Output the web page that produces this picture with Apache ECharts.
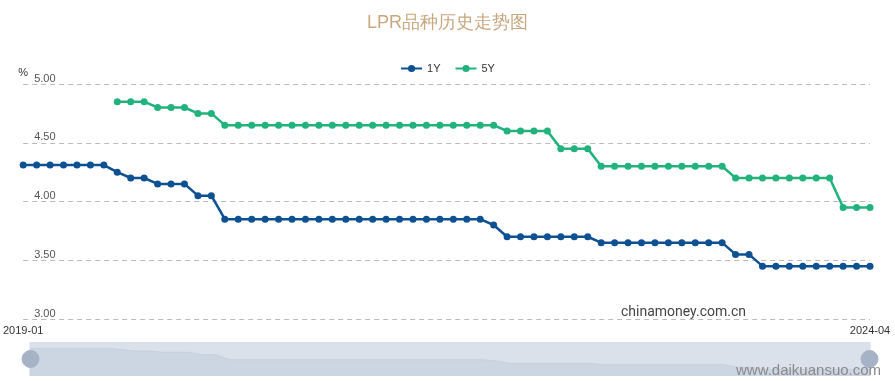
<!DOCTYPE html>
<html>
<head>
<meta charset="utf-8">
<script src="https://cdn.jsdelivr.net/npm/echarts@6/dist/echarts.min.js"></script>
<style>html,body{margin:0;padding:0;background:#fff}#c{width:895px;height:381px}</style>
</head>
<body>
<div id="c"></div>
<script>
var months = [];
(function(){ for (var y = 2019; y <= 2024; y++) for (var m = 1; m <= 12; m++) { if (y === 2024 && m > 4) break; months.push(y + '-' + (m < 10 ? '0' + m : m)); } })();
var lpr1Y = [4.31,4.31,4.31,4.31,4.31,4.31,4.31,4.25,4.20,4.20,4.15,4.15,
  4.15,4.05,4.05,3.85,3.85,3.85,3.85,3.85,3.85,3.85,3.85,3.85,
  3.85,3.85,3.85,3.85,3.85,3.85,3.85,3.85,3.85,3.85,3.85,3.80,
  3.70,3.70,3.70,3.70,3.70,3.70,3.70,3.65,3.65,3.65,3.65,3.65,
  3.65,3.65,3.65,3.65,3.65,3.55,3.55,3.45,3.45,3.45,3.45,3.45,
  3.45,3.45,3.45,3.45];
var lpr5Y = [null,null,null,null,null,null,null,4.85,4.85,4.85,4.80,4.80,
  4.80,4.75,4.75,4.65,4.65,4.65,4.65,4.65,4.65,4.65,4.65,4.65,
  4.65,4.65,4.65,4.65,4.65,4.65,4.65,4.65,4.65,4.65,4.65,4.65,
  4.60,4.60,4.60,4.60,4.45,4.45,4.45,4.30,4.30,4.30,4.30,4.30,
  4.30,4.30,4.30,4.30,4.30,4.20,4.20,4.20,4.20,4.20,4.20,4.20,
  4.20,3.95,3.95,3.95];
var seriesNames = ['1Y', '5Y'];

var chart = echarts.init(document.getElementById('c'));
chart.setOption({
  animation: false,
  title: { text: 'LPR品种历史走势图', left: 'center', top: 9,
    textStyle: { color: '#c9a77f', fontSize: 18, fontWeight: 'normal' } },
  legend: { data: seriesNames, top: 58, left: 'center', itemWidth: 21, itemHeight: 9, itemGap: 14,
    textStyle: { color: '#333', fontSize: 11 } },
  grid: { left: 22, right: 25, top: 84, bottom: 62 },
  xAxis: { type: 'category', boundaryGap: false, data: months,
    axisLine: { show: false }, axisTick: { show: false },
    axisLabel: { color: '#333', fontSize: 11, margin: 6,
      interval: function(i){ return i === 0 || i === months.length - 1; } } },
  yAxis: { type: 'value', min: 3, max: 5, interval: 0.5, name: '%', nameGap: 6,
    nameTextStyle: { color: '#333', fontSize: 11, align: 'center' },
    axisLine: { show: false }, axisTick: { show: false },
    axisLabel: { inside: true, margin: 11, verticalAlign: 'bottom', color: '#555', fontSize: 11,
      formatter: function(v){ return v.toFixed(2); } },
    splitLine: { lineStyle: { type: [5, 4], color: '#bbb', width: 1 } } },
  dataZoom: [{ type: 'slider', xAxisIndex: 0, start: 0, end: 100, left: 27, right: 27, top: 342, height: 34,
    showDetail: false, borderColor: 'transparent', backgroundColor: '#e9edf2',
    fillerColor: 'rgba(200,210,225,0.45)',
    handleIcon: 'circle', handleSize: 17, handleStyle: { color: '#a6b3c7', borderColor: '#a6b3c7' },
    moveHandleSize: 0,
    dataBackground: { lineStyle: { color: '#c5cedb', width: 1 }, areaStyle: { color: '#d6dde7', opacity: 1 } },
    selectedDataBackground: { lineStyle: { color: '#c5cedb', width: 1 }, areaStyle: { color: '#d0d8e3', opacity: 1 } },
    brushSelect: false }],
  series: [
    { name: seriesNames[0], type: 'line', data: lpr1Y, symbol: 'circle', symbolSize: 7,
      itemStyle: { color: '#0d5193' }, lineStyle: { width: 2.5, color: '#0d5193' } },
    { name: seriesNames[1], type: 'line', data: lpr5Y, symbol: 'circle', symbolSize: 7,
      itemStyle: { color: '#22b27e' }, lineStyle: { width: 2.5, color: '#22b27e' } }
  ],
  graphic: [
    { type: 'text', z: 100, left: 621, top: 305, style: { text: 'chinamoney.com.cn', fill: '#444', fontSize: 14, fontFamily: 'Roboto, sans-serif' } },
    { type: 'text', z: 100, left: 736, top: 363, style: { text: 'www.daikuansuo.com', fill: '#8a8a8a', fontSize: 15, fontFamily: 'Liberation Sans, sans-serif', letterSpacing: 0.5 } }
  ]
});
</script>
</body>
</html>
